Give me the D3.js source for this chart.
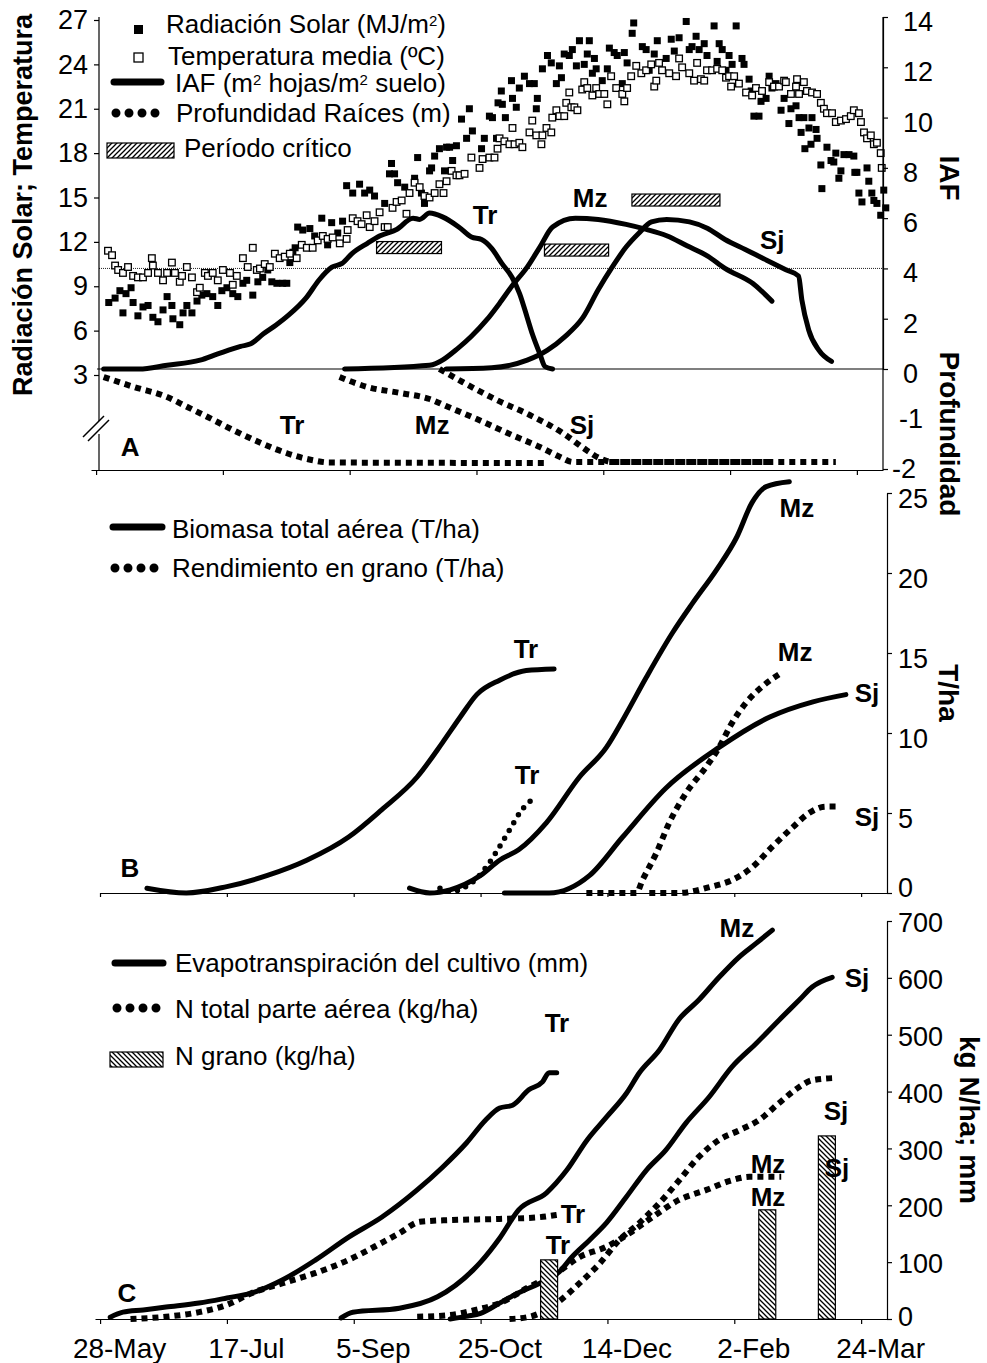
<!DOCTYPE html>
<meta charset="utf-8">
<script src="https://cdnjs.cloudflare.com/ajax/libs/d3/7.8.5/d3.min.js"></script>
<style>
body { margin: 0; background: #fff; }
text { font-family: "Liberation Sans", Arial, sans-serif; fill: #000; }
.axis path, .axis line { stroke: #000; stroke-width: 1.2; }
.axis text { font-size: 27px; }
</style>
<body>
<script>
// size
var w = 987;
var h = 1363;

// dias desde el 28-May
var dayTicks = [0, 50, 100, 150, 200, 250, 300];
var dayLabels = ["28-May", "17-Jul", "5-Sep", "25-Oct", "14-Dec", "2-Feb", "24-Mar"];
var cultivos = ["Tr", "Mz", "Sj"];

// panel A: radiacion solar (MJ/m2) [dia, valor]
var radiacion = [[5,7.9],[7.5,8.2],[9.4,8.7],[10.6,7.2],[11.8,8.5],[13.8,8.9],[14.6,7.9],[16.5,7.0],[18.5,7.6],[20.5,7.7],[22.4,6.9],[24.4,6.6],[26.4,7.4],[28,8.3],[29.9,7.7],[30.3,6.8],[33,6.4],[34.3,7.2],[35.8,7.7],[37.8,7.2],[39.8,8.0],[41.7,8.4],[43.7,8.5],[46,8.3],[48,7.7],[49.6,8.7],[51.6,8.9],[53.9,8.5],[55.9,8.3],[57.9,9.2],[59.4,9.4],[61.8,8.4],[63.8,9.3],[65.7,9.6],[67.7,10.1],[69.3,9.3],[71.3,9.2],[73.6,9.2],[75.2,9.2],[76.4,10.6],[77.6,11.3],[78.5,11.6],[79.5,13.0],[81.5,12.8],[84.3,12.9],[86.2,12.4],[89,13.6],[91.3,11.8],[92.9,13.3],[95.3,12.6],[97.2,13.4],[98.8,15.8],[101.2,15.3],[103.9,15.9],[105.9,15.3],[107.9,15.5],[109.8,15.1],[113.8,14.6],[115.7,16.6],[116.5,17.3],[117.7,16.6],[118.9,16.0],[121.7,15.7],[123.6,15.3],[125.6,16.3],[126.8,17.7],[128.3,15.3],[129.5,14.6],[131.5,16.8],[132.3,17.0],[133.5,17.8],[135.4,18.3],[137.4,16.8],[138.2,18.4],[139.4,18.4],[140.6,17.5],[142.1,18.5],[144.1,20.3],[146.1,19.0],[147.2,21.0],[148.4,19.5],[152,18.3],[153.1,19.0],[155.1,20.5],[156.3,20.4],[157.9,19.0],[158.5,21.4],[159.8,22.2],[160.2,21.3],[161.4,20.4],[163.8,22.9],[164.2,21.7],[165.7,21.1],[166.9,22.4],[168.9,23.2],[170.9,22.7],[172.8,22.7],[173.6,21.0],[174,21.7],[176,23.7],[178,24.6],[179.5,24.1],[181.5,22.7],[182.7,23.9],[183.5,23.1],[184.6,24.7],[186.6,24.6],[187.8,25.0],[189.4,23.9],[190.6,25.6],[192.5,24.0],[193.7,24.7],[194.5,25.6],[195.7,23.4],[196.5,24.4],[197.2,23.7],[199.6,22.9],[201.6,23.7],[202.4,25.1],[204.3,24.8],[205.5,24.6],[207.5,22.7],[208.3,24.8],[209.4,24.1],[211.4,26.1],[212,26.8],[215.4,25.2],[216.9,25.0],[218.1,23.6],[220.1,24.7],[221.3,25.6],[223.2,23.6],[224.8,24.4],[226.8,25.7],[228,24.9],[229.9,25.8],[232.7,26.9],[233.9,25.0],[235,25.2],[236.6,25.9],[237.8,25.0],[239.8,25.4],[240.9,24.6],[243.7,26.6],[244.9,24.2],[245.7,25.4],[246.9,25.0],[248.4,23.6],[249.6,24.6],[250.8,24.0],[252.4,26.6],[254.7,24.4],[255.5,24.0],[257.5,23.0],[258.3,22.2],[259.4,20.5],[261.4,20.5],[262.2,21.5],[264.2,21.7],[265.4,23.2],[266.5,22.4],[268.1,22.7],[270.1,20.9],[271.3,21.7],[273.2,20.0],[274,21.0],[276,21.2],[277.2,20.4],[278,19.4],[279.1,20.4],[279.5,18.3],[281.1,19.7],[281.9,18.6],[282.3,20.4],[283.9,19.6],[284.3,19.0],[285.8,17.2],[286.2,15.6],[288.2,18.4],[289.8,17.5],[290.9,17.4],[291.7,18.0],[292.9,16.3],[293.7,16.8],[294.9,17.9],[296.9,17.9],[298.8,17.8],[299.2,16.7],[300,16.7],[300.8,15.3],[302,14.7],[304,17.0],[304.7,16.1],[305.9,15.3],[306.7,14.8],[307.9,14.6],[309.4,13.8],[310.6,15.5],[311.4,14.3]];

// panel A: temperatura media (C) [dia, valor]
var temperatura = [[4.7,11.4],[6.3,11.1],[7.5,10.4],[8.7,10.1],[10.6,9.9],[12.6,10.3],[14.6,9.7],[16.5,9.6],[18.5,9.6],[20.5,9.9],[22,10.9],[22.4,10.4],[24.4,9.9],[26.4,9.4],[28,9.9],[29.9,10.6],[31.1,9.9],[33,9.3],[33.9,9.7],[35.8,10.3],[37.8,9.6],[39.8,8.6],[40.9,8.9],[42.9,9.9],[44.1,9.7],[46,9.9],[48,9.4],[50,10.1],[52.8,9.9],[53.9,9.1],[55.5,9.7],[57.9,10.9],[59.8,10.3],[61.8,11.6],[63.4,10.1],[64.6,10.2],[66.5,10.5],[68.5,10.3],[70.5,11.2],[72.4,10.9],[74.4,11.0],[76.4,11.2],[79.1,10.9],[81.1,11.8],[83.1,11.6],[85.4,11.6],[87.4,12.1],[89.4,12.4],[91.3,12.2],[93.3,12.3],[96.1,11.9],[98.8,12.2],[99.2,12.8],[101.2,13.6],[103.1,13.4],[104.7,13.2],[106.7,13.8],[107.9,13.0],[109.8,13.4],[111.8,14.0],[113.8,13.0],[115,13.0],[116.9,14.3],[118.5,14.7],[120.5,14.8],[122.4,13.9],[123.6,15.3],[125.6,16.0],[127.6,15.7],[129.5,15.1],[131.5,15.0],[133.5,15.3],[135.4,15.9],[137,15.3],[138.2,16.1],[140.2,16.8],[142.1,16.5],[143.3,16.5],[145.3,16.6],[148,17.7],[151.2,17.0],[152.4,17.6],[155.1,17.7],[157.1,17.7],[158.3,18.3],[159.1,19.0],[161,18.8],[163,18.6],[164.2,19.7],[165,18.6],[166.9,18.7],[168.1,18.4],[170.9,19.4],[172,20.2],[173.6,19.2],[175.6,18.6],[176,19.2],[177.6,19.7],[179.5,19.4],[179.9,20.4],[181.5,20.9],[182.7,20.5],[184.6,20.5],[185.4,21.4],[186.6,22.1],[187.4,21.1],[188.6,21.1],[189.8,20.9],[191.7,22.3],[192.5,22.8],[193.7,22.4],[195.7,21.9],[197.2,22.4],[198.4,22.0],[200.4,22.0],[201.6,21.3],[203.1,23.2],[205.1,22.4],[207.5,22.0],[208.3,21.5],[209.4,22.4],[211,23.2],[213,23.9],[215,23.4],[216.9,23.6],[218.9,24.0],[220.1,22.5],[220.9,22.9],[222,24.1],[223.2,23.6],[226,23.4],[228.7,23.2],[229.9,24.4],[231.1,23.8],[233.9,23.4],[235.8,22.9],[237,24.1],[238.5,23.0],[239.8,22.9],[240.9,23.6],[242.9,23.6],[244.9,23.7],[246.9,23.6],[248.4,23.1],[249.6,23.2],[250.4,22.5],[251.6,23.2],[253.5,22.7],[256.3,22.1],[258.7,21.9],[260.2,22.4],[262.6,22.2],[265.4,22.8],[267.3,22.5],[269.3,22.5],[271.3,22.9],[272,22.8],[274,22.0],[276,22.5],[276.4,23.0],[277.2,22.0],[279.1,22.8],[280.3,22.2],[282.3,22.1],[284.3,22.0],[285.8,21.4],[287,21.0],[288.2,20.7],[290.2,20.7],[291.7,20.1],[293.7,20.2],[295.7,20.3],[297.6,20.5],[298.8,20.9],[300.8,20.7],[301.6,20.1],[302.8,19.4],[304,19.0],[305.5,19.2],[306.7,18.6],[307.9,18.7],[309.4,18.0],[309.8,17.0]];

// panel A: IAF (m2/m2)
var iafTr = [[3,0],[17,0],[28,0.15],[41,0.35],[48,0.6],[57,0.9],[61,1.0],[66,1.4],[71,1.75],[76,2.15],[83,2.85],[88,3.55],[93,4.05],[97,4.2],[101,4.6],[107,5.0],[112,5.3],[118.5,5.55],[125,6.0],[127.6,5.95],[131.5,6.2],[136.6,6.05],[143,5.65],[148,5.25],[152,5.15],[156,4.8],[160,4.2],[164,3.65],[167,3.0],[170,2.05],[172,1.4],[175,0.6],[177,0.1],[180,0]];
var iafMz = [[98,0],[131.5,0.15],[143,0.85],[148,1.3],[154,1.95],[159,2.6],[164,3.3],[170,4.05],[175,4.85],[180,5.65],[189,6.0],[198,5.95],[209,5.75],[217,5.55],[225,5.3],[233,4.9],[241,4.5],[248,4.0],[259,3.4],[266.5,2.7]];
var iafSj = [[138,0],[156,0.05],[170,0.35],[178,0.75],[185,1.3],[192,2.05],[198,3.15],[203.5,4.05],[209,4.85],[214,5.4],[219,5.85],[225,5.95],[234,5.85],[241,5.6],[248,5.15],[256,4.75],[264,4.35],[272,3.95],[277,3.7],[278.3,2.75],[281,1.55],[285,0.75],[290,0.3]];

// panel A: profundidad de raices (m)
var raizTr = [[3,-0.16],[15,-0.36],[28,-0.56],[36,-0.76],[44,-0.96],[54,-1.22],[65,-1.48],[75,-1.68],[85,-1.82],[92,-1.87],[178,-1.88]];
var raizMz = [[96,-0.16],[107,-0.36],[120,-0.48],[131.5,-0.6],[138,-0.74],[151,-1.02],[164,-1.32],[175,-1.56],[183,-1.76],[188,-1.86],[266,-1.86]];
var raizSj = [[135.4,0],[144.5,-0.26],[158,-0.62],[171,-0.92],[184,-1.28],[193.3,-1.62],[198.4,-1.78],[203.5,-1.86],[291.7,-1.86]];

// panel A: periodo critico [inicio, fin, IAF]
var critIni = [110.6, 176.8, 211.3];
var critFin = [136.2, 202.1, 246];
var critIaf = [4.83, 4.73, 6.72];

// panel B: biomasa y rendimiento (T/ha)
var biomTr = [[18.5,0.3],[34,0],[50,0.4],[66,1.1],[81.5,2.05],[98,3.5],[111,5.2],[125,7.25],[135,9.4],[142,11.0],[148.5,12.4],[157.5,13.3],[168,13.9],[179,14.0]];
var biomMz = [[122,0.3],[130,0],[138,0.2],[150,1.1],[157.5,2.05],[165,2.7],[176,4.4],[189,7.25],[199.6,9.1],[206,10.8],[215.4,13.5],[225.6,16.25],[233.5,18.1],[243,20.2],[251,22.25],[257,24.4],[262.6,25.4],[271.7,25.7]];
var biomSj = [[159.4,0],[177,0],[193,1.1],[206,3.5],[223,6.55],[244,9.1],[264,11.0],[281,11.95],[294,12.4]];
var rendTr = [[134,0.3],[139,0.1],[143,0.3],[147,0.7],[153.5,1.9],[157.5,2.9],[162,4.1],[165.4,5.0],[168.5,5.6],[172.4,6.0]];
var rendMz = [[191.7,0],[211.4,0],[213.8,0.8],[219.3,2.5],[224.4,4.4],[231,6.25],[239,7.9],[244,9.1],[249,10.6],[254.7,11.9],[261,12.9],[268.5,13.75]];
var rendSj = [[216.5,0],[228,0],[241,0.4],[249,0.8],[257,1.6],[265,2.9],[273,4.1],[279.5,5.0],[286,5.4],[290.6,5.4]];

// panel C: evapotranspiracion (mm) y N (kg/ha)
var etTr = [[4,3],[9,12],[17,16],[26,21],[39,28],[50,37],[60,46],[72,69],[85,104],[98,144],[111,179],[125,227],[135,267],[144.5,310],[152,350],[157.5,371],[162.6,376],[169,403],[174.4,417],[177,433],[180,433]];
var etMz = [[95,2],[99.6,12],[118,19],[133,39],[147,86],[150,100],[157.5,142],[165,192],[176,222],[184,262],[192,315],[199.6,355],[207.5,397],[212.6,433],[220.5,473],[228,526],[236,561],[244,601],[252,637],[258.7,661],[265,684]];
var etSj = [[138,0],[145,5],[150,10],[157.5,28],[165,46],[176,69],[181,83],[186,109],[193,139],[199.6,169],[207.5,215],[215.4,262],[223,297],[231,345],[240,390],[249,443],[258.7,485],[267.7,526],[275.6,561],[280.7,584],[288.6,601]];
var nTr = [[12,0],[26,4],[39,12],[50,25],[60,46],[72,63],[85,81],[98,104],[111,134],[118,151],[126,171],[138,174],[157.5,176],[173,179],[180,183]];
var nMz = [[125,4],[138,7],[148,16],[157.5,28],[169,56],[180,81],[189,109],[199.6,127],[208.7,151],[217.7,179],[228,209],[239,227],[249,244],[256,250],[262.6,250],[268.5,250]];
var nSj = [[161.4,0],[169.3,4],[180,28],[189,63],[197,98],[204.7,139],[212.6,169],[220.5,204],[228.3,244],[236,285],[244,315],[252,332],[259.8,350],[267.7,380],[275.6,408],[280.7,420],[290.2,424]];
var nGranoDia = [177, 263, 286.5];
var nGrano = [104, 192, 322];

var svg = d3.select("body").append("svg")
    .attr("width", w)
    .attr("height", h);

// hatch patterns
var defs = svg.append("defs");
function hatch(id, d) {
  var p = defs.append("pattern").attr("id", id)
    .attr("patternUnits", "userSpaceOnUse")
    .attr("width", 5).attr("height", 5);
  p.append("rect").attr("width", 5).attr("height", 5).attr("fill", "#fff");
  p.append("path").attr("d", d).attr("stroke", "#000").attr("stroke-width", 1.3);
}
hatch("hatchA", "M-1,1 l2,-2 M0,5 l5,-5 M4,6 l2,-2");
hatch("hatchC", "M-1,4 l2,2 M0,0 l5,5 M4,-1 l2,2");

function drawLine(x, y, data, style) {
  var line = d3.line()
    .x(function(d) { return x(d[0]); })
    .y(function(d) { return y(d[1]); })
    .curve(d3.curveMonotoneX);
  var p = svg.append("path").datum(data)
    .attr("d", line)
    .attr("fill", "none")
    .attr("stroke", "#000");
  if (style == "solid") {
    p.attr("stroke-width", 5).attr("stroke-linecap", "round").attr("stroke-linejoin", "round");
  } else if (style == "square") {
    p.attr("stroke-width", 6).attr("stroke-dasharray", "6,5");
  } else {
    p.attr("stroke-width", 5.5).attr("stroke-dasharray", "0,9").attr("stroke-linecap", "round");
  }
  return p;
}

function label(x, y, dx, v, t) {
  svg.append("text")
    .attr("x", x(dx)).attr("y", y(v))
    .attr("text-anchor", "middle")
    .attr("dy", "0.36em")
    .style("font-size", "26px")
    .style("font-weight", "bold")
    .text(t);
}

function legendLine(x1, x2, y, style) {
  var l = svg.append("line").attr("x1", x1).attr("x2", x2).attr("y1", y).attr("y2", y)
    .attr("stroke", "#000").attr("stroke-linecap", "round");
  if (style == "solid") l.attr("stroke-width", 7);
  else l.attr("stroke-width", 9).attr("stroke-dasharray", "0,13");
}

// parts: strings, or ["2"] arrays for a superscript
function legendText(x, y, parts) {
  var t = svg.append("text").attr("x", x).attr("y", y).style("font-size", "26px");
  var shift = 0;
  parts.forEach(function(p) {
    if (typeof p === "string") {
      t.append("tspan").attr("dy", shift).text(p);
      shift = 0;
    } else {
      t.append("tspan").attr("dy", -7).style("font-size", "15px").text(p[0]);
      shift = 7;
    }
  });
}

// ================= PANEL A =================
var xA = d3.scaleLinear().domain([-2, 310.3]).range([91, 883]);
var yL = d3.scaleLinear().domain([3, 27]).range([375, 20]);
var yIaf = d3.scaleLinear().domain([0, 14]).range([369, 17]);
var yRaiz = d3.scaleLinear().domain([-2, 0]).range([469, 369]);

// reference lines IAF 4 and 0
svg.append("line").attr("x1", 99).attr("x2", 883).attr("y1", yIaf(4)).attr("y2", yIaf(4))
  .attr("stroke", "#222").attr("stroke-width", 1).attr("stroke-dasharray", "1,1");
svg.append("line").attr("x1", 97).attr("x2", 883).attr("y1", yIaf(0)).attr("y2", yIaf(0))
  .attr("stroke", "#000").attr("stroke-width", 1.2);

// scatter
svg.selectAll(".rad").data(radiacion).enter().append("rect")
  .attr("class", "rad")
  .attr("x", function(d) { return xA(d[0]) - 3.5; })
  .attr("y", function(d) { return yL(d[1]) - 3.5; })
  .attr("width", 7).attr("height", 7)
  .attr("fill", "#000");
svg.selectAll(".tmp").data(temperatura).enter().append("rect")
  .attr("class", "tmp")
  .attr("x", function(d) { return xA(d[0]) - 3.3; })
  .attr("y", function(d) { return yL(d[1]) - 3.3; })
  .attr("width", 6.6).attr("height", 6.6)
  .attr("fill", "#fff").attr("stroke", "#000").attr("stroke-width", 1.3);

// critical period bars
svg.selectAll(".crit").data(critIni).enter().append("rect")
  .attr("class", "crit")
  .attr("x", function(d) { return xA(d); })
  .attr("width", function(d, i) { return xA(critFin[i]) - xA(d); })
  .attr("y", function(d, i) { return yIaf(critIaf[i]) - 6; })
  .attr("height", 12)
  .attr("fill", "url(#hatchA)").attr("stroke", "#000").attr("stroke-width", 1.2);

[iafTr, iafMz, iafSj].forEach(function(s) { drawLine(xA, yIaf, s, "solid"); });
[raizTr, raizMz, raizSj].forEach(function(s) { drawLine(xA, yRaiz, s, "square"); });

// axes panel A
svg.append("g").attr("class", "axis")
  .attr("transform", "translate(0,470)")
  .call(d3.axisBottom(xA).tickValues(dayTicks).tickFormat("").tickSize(5).tickSizeOuter(0));

var gl = svg.append("g").attr("class", "axis")
  .attr("transform", "translate(99,0)")
  .call(d3.axisLeft(yL).tickValues(d3.range(3, 28, 3)).tickSize(5).tickPadding(6).tickSizeOuter(0));
gl.select(".domain").remove();
svg.append("line").attr("x1", 99).attr("x2", 99).attr("y1", 17).attr("y2", 470)
  .attr("stroke", "#000").attr("stroke-width", 1.2);
// axis break
svg.append("rect").attr("x", 96).attr("y", 421).attr("width", 6).attr("height", 13).attr("fill", "#fff");
svg.append("path").attr("d", "M83,437 L104,416 M88,441 L109,420")
  .attr("stroke", "#000").attr("stroke-width", 1.5).attr("fill", "none");

var gr = svg.append("g").attr("class", "axis")
  .attr("transform", "translate(883,0)")
  .call(d3.axisRight(yIaf).tickValues(d3.range(0, 15, 2)).tickSize(5).tickPadding(15).tickSizeOuter(0));
gr.selectAll("text").attr("dy", "0.5em");
var gr2 = svg.append("g").attr("class", "axis")
  .attr("transform", "translate(883,0)")
  .call(d3.axisRight(yRaiz).tickValues([-2, -1]).tickFormat(function(d) { return String(d); })
    .tickSize(5).tickPadding(4).tickSizeOuter(0));
gr2.select(".domain").remove();
gr2.selectAll(".tick line").filter(function(d) { return d == -1; }).remove();
gr2.selectAll(".tick text").filter(function(d) { return d == -1; }).attr("x", 16);
gr2.selectAll("text").attr("dy", "0.3em");
svg.append("line").attr("x1", 883).attr("x2", 883).attr("y1", 17).attr("y2", 470)
  .attr("stroke", "#000").attr("stroke-width", 1.2);

label(xA, yIaf, 153.4, 6.13, "Tr");
label(xA, yIaf, 194.8, 6.8, "Mz");
label(xA, yIaf, 266.6, 5.13, "Sj");
label(xA, yRaiz, 77.3, -1.12, "Tr");
label(xA, yRaiz, 132.5, -1.12, "Mz");
label(xA, yRaiz, 191.6, -1.12, "Sj");
label(xA, yRaiz, 13.4, -1.55, "A");

// titles
svg.append("text").attr("transform", "translate(32,205) rotate(-90)")
  .attr("text-anchor", "middle").style("font-size", "27px").style("font-weight", "bold")
  .text("Radiación Solar; Temperatura");
svg.append("text").attr("transform", "translate(940,178) rotate(90)")
  .attr("text-anchor", "middle").style("font-size", "28px").style("font-weight", "bold")
  .text("IAF");
svg.append("text").attr("transform", "translate(940,434) rotate(90)")
  .attr("text-anchor", "middle").style("font-size", "28px").style("font-weight", "bold")
  .text("Profundidad");

// legend A
svg.append("rect").attr("x", 134).attr("y", 25).attr("width", 9).attr("height", 9).attr("fill", "#000");
legendText(166, 33, ["Radiación Solar (MJ/m", ["2"], ")"]);
svg.append("rect").attr("x", 134).attr("y", 53).attr("width", 9).attr("height", 9)
  .attr("fill", "#fff").attr("stroke", "#000").attr("stroke-width", 1.3);
legendText(168, 65, ["Temperatura media (ºC)"]);
legendLine(114, 161, 82, "solid");
legendText(175, 92, ["IAF (m", ["2"], " hojas/m", ["2"], " suelo)"]);
legendLine(116, 161, 113, "dots");
legendText(176, 122, ["Profundidad Raíces (m)"]);
svg.append("rect").attr("x", 107).attr("y", 143).attr("width", 67).attr("height", 15)
  .attr("fill", "url(#hatchA)").attr("stroke", "#000").attr("stroke-width", 1.2);
legendText(184, 157, ["Período crítico"]);

// ================= PANEL B =================
var xB = d3.scaleLinear().domain([0, 310.2]).range([100, 887]);
var yB = d3.scaleLinear().domain([0, 25]).range([893, 493]);

[biomTr, biomMz, biomSj].forEach(function(s) { drawLine(xB, yB, s, "solid"); });
drawLine(xB, yB, rendTr, "round");
drawLine(xB, yB, rendMz, "square");
drawLine(xB, yB, rendSj, "square");

svg.append("g").attr("class", "axis")
  .attr("transform", "translate(0,893)")
  .call(d3.axisBottom(xB).tickValues(dayTicks).tickFormat("").tickSize(4).tickSizeOuter(0));
var gb = svg.append("g").attr("class", "axis")
  .attr("transform", "translate(887,0)")
  .call(d3.axisRight(yB).tickValues(d3.range(0, 26, 5)).tickSize(5).tickPadding(6).tickSizeOuter(0));
gb.selectAll("text").attr("dy", function(d) { return d == 0 ? "0.12em" : "0.55em"; });

label(xB, yB, 167.9, 15.25, "Tr");
label(xB, yB, 274.7, 24.06, "Mz");
label(xB, yB, 274, 15.06, "Mz");
label(xB, yB, 302.3, 12.5, "Sj");
label(xB, yB, 168.3, 7.4, "Tr");
label(xB, yB, 302.3, 4.75, "Sj");
label(xB, yB, 11.8, 1.6, "B");

svg.append("text").attr("transform", "translate(939,693) rotate(90)")
  .attr("text-anchor", "middle").style("font-size", "28px").style("font-weight", "bold")
  .text("T/ha");

legendLine(113, 162, 527, "solid");
legendText(172, 538, ["Biomasa total aérea (T/ha)"]);
legendLine(115, 162, 568, "dots");
legendText(172, 577, ["Rendimiento en grano (T/ha)"]);

// ================= PANEL C =================
var xC = d3.scaleLinear().domain([-2, 310.2]).range([95, 887]);
var yC = d3.scaleLinear().domain([0, 700]).range([1319, 921]);

[etTr, etMz, etSj].forEach(function(s) { drawLine(xC, yC, s, "solid"); });
[nTr, nMz, nSj].forEach(function(s) { drawLine(xC, yC, s, "square"); });

svg.selectAll(".ngr").data(nGrano).enter().append("rect")
  .attr("class", "ngr")
  .attr("x", function(d, i) { return xC(nGranoDia[i]) - 8.5; })
  .attr("width", 17)
  .attr("y", function(d) { return yC(d); })
  .attr("height", function(d) { return yC(0) - yC(d); })
  .attr("fill", "url(#hatchC)").attr("stroke", "#000").attr("stroke-width", 1.2);

var gx = svg.append("g").attr("class", "axis")
  .attr("transform", "translate(0,1319)")
  .call(d3.axisBottom(xC).tickValues(dayTicks)
    .tickFormat(function(d, i) { return dayLabels[i]; })
    .tickSize(5).tickPadding(14).tickSizeOuter(0));
gx.selectAll("text").attr("dx", 19).style("font-size", "28px");
var gc = svg.append("g").attr("class", "axis")
  .attr("transform", "translate(887,0)")
  .call(d3.axisRight(yC).tickValues(d3.range(0, 701, 100)).tickSize(5).tickPadding(6).tickSizeOuter(0));
gc.selectAll("text").attr("dy", function(d) { return d == 0 ? "0.25em" : "0.4em"; });

label(xC, yC, 180.1, 522, "Tr");
label(xC, yC, 186.4, 186, "Tr");
label(xC, yC, 180.5, 130, "Tr");
label(xC, yC, 251, 689, "Mz");
label(xC, yC, 263.3, 274, "Mz");
label(xC, yC, 263.3, 216, "Mz");
label(xC, yC, 298.4, 600, "Sj");
label(xC, yC, 290.1, 366, "Sj");
label(xC, yC, 290.5, 266, "Sj");
label(xC, yC, 10.6, 47, "C");

svg.append("text").attr("transform", "translate(960,1120) rotate(90)")
  .attr("text-anchor", "middle").style("font-size", "28px").style("font-weight", "bold")
  .text("kg N/ha; mm");

legendLine(115, 163, 963, "solid");
legendText(175, 972, ["Evapotranspiración del cultivo (mm)"]);
legendLine(117, 163, 1008, "dots");
legendText(175, 1018, ["N total parte aérea (kg/ha)"]);
svg.append("rect").attr("x", 110).attr("y", 1052).attr("width", 53).attr("height", 15)
  .attr("fill", "url(#hatchC)").attr("stroke", "#000").attr("stroke-width", 1.2);
legendText(175, 1065, ["N grano (kg/ha)"]);

</script>
</body>
</html>
